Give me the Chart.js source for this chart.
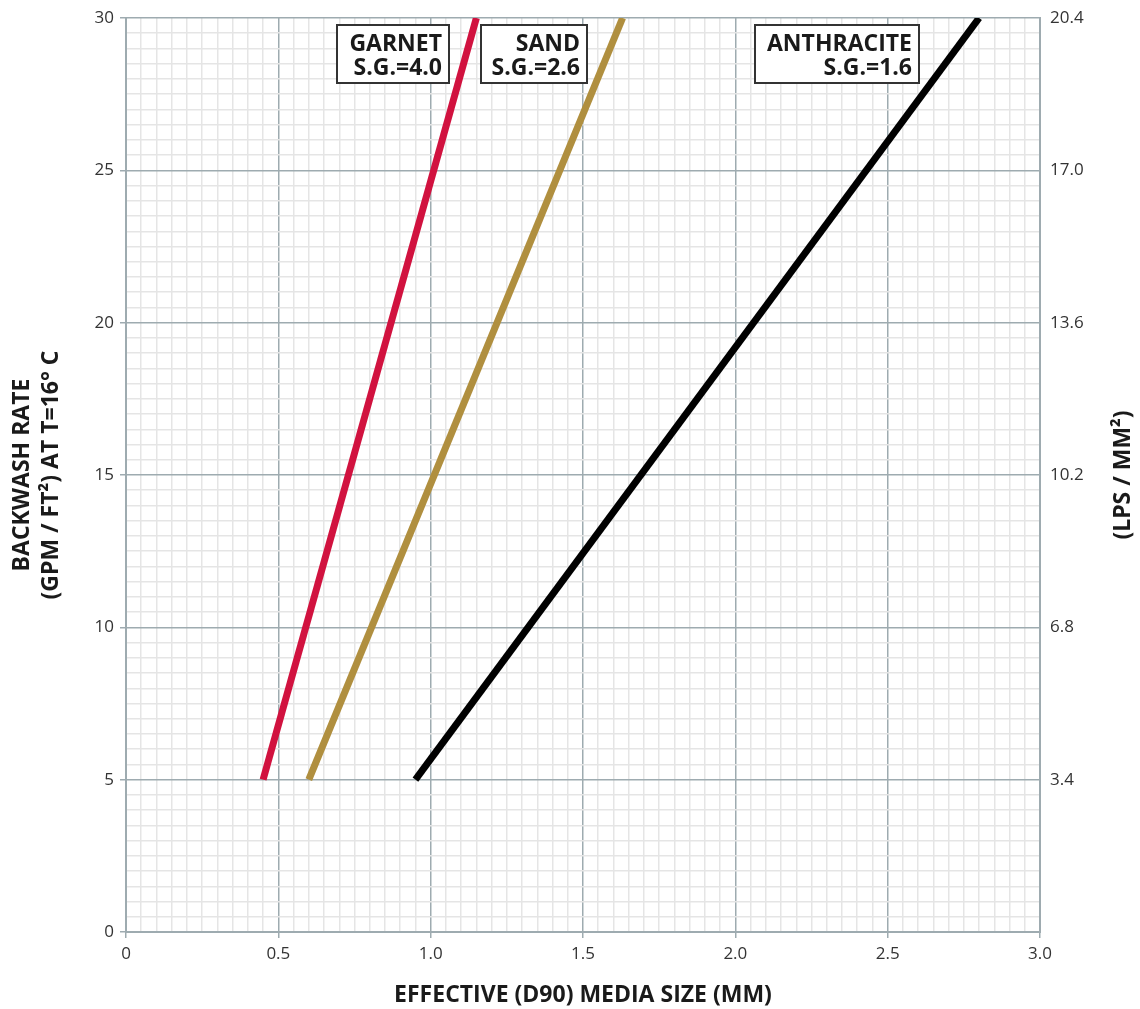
<!DOCTYPE html>
<html>
<head>
<meta charset="utf-8">
<script src="https://cdn.jsdelivr.net/npm/chart.js@4.4.1/dist/chart.umd.min.js"></script>
<style>
  html, body { margin: 0; padding: 0; background: #fff; }
  #wrap { position: relative; width: 1140px; height: 1009px; }
</style>
</head>
<body>
<div id="wrap"><canvas id="chart" width="1140" height="1009"></canvas></div>
<script>
// media lines: effective size (mm) vs backwash rate (gpm/ft2)
const garnetX = [0.45, 1.15];
const garnetY = [5, 30];
const sandX = [0.6, 1.63];
const sandY = [5, 30];
const anthraciteX = [0.95, 2.8];
const anthraciteY = [5, 30];

const seriesNames = ['GARNET', 'SAND', 'ANTHRACITE'];
const seriesSG = ['S.G.=4.0', 'S.G.=2.6', 'S.G.=1.6'];
const seriesColors = ['#d1123f', '#b08f3f', '#000000'];

const lpsFactor = 0.68; // right axis: 5 gpm/ft2 -> 3.4

const FONT = '"Open Sans", "Noto Sans", sans-serif';
const MAJOR = '#9eabb0';
const MINOR = '#e5e5e5';

function pts(xs, ys) {
    return xs.map((x, i) => ({ x, y: ys[i] }));
}

const isMajorX = (v) => Math.round(v * 100) % 50 === 0;
const isMajorY = (v) => Math.round(v * 10) % 50 === 0;

// label boxes, anchored to the chart area (right edge px offset from left, width)
const boxes = [
    { right: 323, width: 112 },
    { right: 461, width: 106 },
    { right: 793, width: 164 },
];

const labelBoxes = {
    id: 'labelBoxes',
    afterDatasetsDraw(chart) {
        const { ctx, chartArea } = chart;
        ctx.save();
        boxes.forEach((b, i) => {
            const x1 = chartArea.left + b.right;
            const x0 = x1 - b.width;
            const y0 = chartArea.top + 7;
            const h = 58;
            ctx.fillStyle = '#fff';
            ctx.fillRect(x0, y0, b.width, h);
            ctx.strokeStyle = '#333';
            ctx.lineWidth = 2;
            ctx.strokeRect(x0, y0, b.width, h);
            ctx.fillStyle = '#1a1a1a';
            ctx.font = 'bold 23px ' + FONT;
            ctx.textAlign = 'right';
            ctx.textBaseline = 'alphabetic';
            ctx.fillText(seriesNames[i], x1 - 7, y0 + 26);
            ctx.fillText(seriesSG[i], x1 - 7, y0 + 50);
        });
        ctx.restore();
    }
};

const axisTitles = {
    id: 'axisTitles',
    afterDraw(chart) {
        const { ctx, chartArea } = chart;
        const midY = (chartArea.top + chartArea.bottom) / 2;
        ctx.save();
        ctx.fillStyle = '#1a1a1a';
        ctx.font = 'bold 23px ' + FONT;
        ctx.textAlign = 'center';
        ctx.textBaseline = 'middle';
        ctx.fillText('EFFECTIVE (D90) MEDIA SIZE (MM)', 583, 995);

        ctx.translate(22, midY);
        ctx.rotate(-Math.PI / 2);
        ctx.fillText('BACKWASH RATE', 0, 0);
        ctx.fillText('(GPM / FT²) AT T=16° C', 0, 29);
        ctx.restore();

        ctx.save();
        ctx.fillStyle = '#1a1a1a';
        ctx.font = 'bold 23px ' + FONT;
        ctx.textAlign = 'center';
        ctx.textBaseline = 'middle';
        ctx.translate(1123, midY);
        ctx.rotate(-Math.PI / 2);
        ctx.fillText('(LPS / MM²)', 0, 0);
        ctx.restore();
    }
};

const lineDs = (xs, ys, color) => ({
    data: pts(xs, ys),
    borderColor: color,
    borderWidth: 7,
    borderCapStyle: 'butt',
    pointRadius: 0,
    fill: false,
    tension: 0,
});

new Chart(document.getElementById('chart'), {
    type: 'line',
    data: {
        datasets: [
            lineDs(garnetX, garnetY, seriesColors[0]),
            lineDs(sandX, sandY, seriesColors[1]),
            lineDs(anthraciteX, anthraciteY, seriesColors[2]),
        ],
    },
    options: {
        responsive: false,
        animation: false,
        layout: { padding: { top: 18, left: 0, right: 0, bottom: 0 } },
        plugins: { legend: { display: false }, tooltip: { enabled: false } },
        scales: {
            x: {
                type: 'linear',
                min: 0, max: 3,
                afterFit: (s) => { s.height = 77; },
                border: { color: MAJOR, width: 2 },
                grid: {
                    color: (c) => isMajorX(c.tick.value) ? MAJOR : MINOR,
                    lineWidth: 1.5,
                    tickLength: 6,
                    tickColor: (c) => isMajorX(c.tick.value) ? MAJOR : 'rgba(0,0,0,0)',
                },
                ticks: {
                    stepSize: 0.05,
                    autoSkip: false,
                    maxRotation: 0,
                    padding: 6,
                    color: '#333',
                    font: { family: FONT, size: 17 },
                    callback: (v) => isMajorX(v) ? (v === 0 ? '0' : v.toFixed(1)) : '',
                },
            },
            y: {
                type: 'linear',
                position: 'left',
                min: 0, max: 30,
                afterFit: (s) => { s.width = 126; },
                border: { color: MAJOR, width: 2 },
                grid: {
                    color: (c) => isMajorY(c.tick.value) ? MAJOR : MINOR,
                    lineWidth: 1.5,
                    tickLength: 6,
                    tickColor: (c) => isMajorY(c.tick.value) ? MAJOR : 'rgba(0,0,0,0)',
                },
                ticks: {
                    stepSize: 0.5,
                    autoSkip: false,
                    padding: 6,
                    color: '#333',
                    font: { family: FONT, size: 17 },
                    callback: (v) => isMajorY(v) ? String(Math.round(v)) : '',
                },
            },
            y2: {
                type: 'linear',
                position: 'right',
                min: 0, max: 30,
                afterFit: (s) => { s.width = 100; },
                border: { color: MAJOR, width: 2 },
                grid: {
                    drawOnChartArea: false,
                    tickLength: 6,
                    tickColor: 'rgba(0,0,0,0)',
                },
                ticks: {
                    stepSize: 5,
                    autoSkip: false,
                    padding: 4,
                    color: '#333',
                    font: { family: FONT, size: 17 },
                    callback: (v) => v === 0 ? '' : (v * lpsFactor).toFixed(1),
                },
            },
        },
    },
    plugins: [labelBoxes, axisTitles],
});
</script>
</body>
</html>
